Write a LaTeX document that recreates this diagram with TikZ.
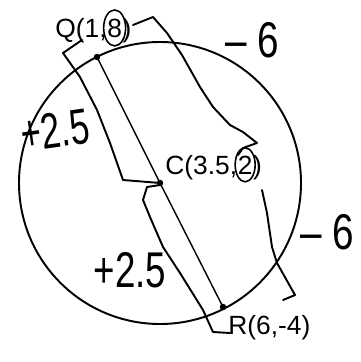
\documentclass[tikz,border=0pt]{standalone}
\usepackage{fontspec}
\setmainfont{Liberation Sans}
\usetikzlibrary{arrows.meta,positioning}

\begin{document}
\begin{tikzpicture}[x=0.02cm,y=-0.02cm,
  pt/.style={circle,fill,inner sep=1.3pt},
  lbl/.style={font=\fontsize{15}{17}\selectfont,inner sep=0pt,anchor=base west},
  hand/.style={font=\fontsize{22}{26}\selectfont,inner sep=0pt},
  stroke/.style={line width=1.1pt,line join=round,line cap=round},
  ring/.style={line width=0.9pt}]
  \useasboundingbox (0,0) rectangle (360,362);
  \node[pt] (q) at (97,57) {};
  \node[pt] (c) at (160,183) {};
  \node[pt] (r) at (223,307) {};
  \draw[line width=1.1pt] (c.center) circle[radius=141];
  \draw[line width=0.8pt] (q.center) -- (c.center) -- (r.center);
  % labels, with the circled y values
  \node[lbl] (qa) at (55,37) {Q(1,};
  \node[lbl] (q8) at (qa.base east) {8};
  \node[lbl] (qb) at (q8.base east) {)};
  \draw[ring] (q8.center) ellipse[x radius=11,y radius=18];
  \node[lbl] (ca) at (165,174) {C(3.5,};
  \node[lbl] (c2) at (ca.base east) {2};
  \node[lbl] (cb) at (c2.base east) {)};
  \draw[ring] (c2.center) ellipse[x radius=10,y radius=17];
  \node[lbl] (rlbl) at (228,334) {R(6,-4)};
  % hand marks
  \draw[stroke] (82,40) -- (63,53) -- (80,77) -- (97,110) -- (110,143)
    -- (123,180) -- (160,183);
  \draw[stroke] (160,185) -- (147,187) -- (143,200) -- (150,217) -- (163,247)
    -- (180,273) -- (203,310) -- (213,332) -- (230,333);
  \draw[stroke] (133,25) -- (153,17) -- (167,33) -- (182,55) -- (200,87)
    -- (213,107) -- (230,125) -- (243,132) -- (257,143) -- (243,148) -- (238,155);
  \draw[stroke] (262,190) -- (267,213) -- (272,247) -- (277,263) -- (295,295)
    -- (283,300);
  \node[hand,rotate=8] (ltop) at (55,130) {\scalebox{0.9}[1.3]{+2.5}};
  \node[hand] (lbot) at (130,270) {\scalebox{0.95}[1.3]{+2.5}};
  \node[hand] (rtop) at (252,40) {\scalebox{1}[1.3]{– 6}};
  \node[hand] (rbot) at (327,232) {\scalebox{1}[1.3]{– 6}};
\end{tikzpicture}
\end{document}
